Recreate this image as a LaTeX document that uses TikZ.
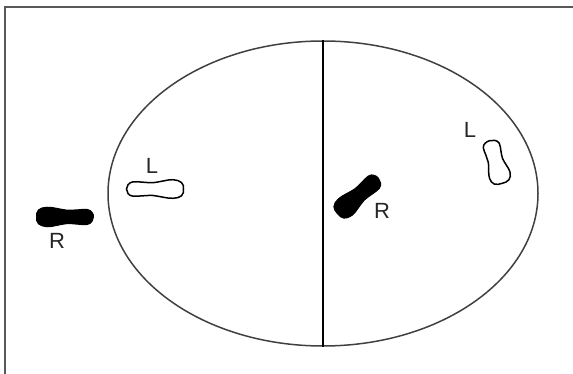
\documentclass[tikz,border=0pt]{standalone}
\usepackage{fontspec}
\setmainfont{Liberation Sans}
\usetikzlibrary{shapes.geometric}
\newcommand{\lblsize}{\fontsize{22}{26}\selectfont}
\tikzset{
  foot/.pic={\path[pic actions] plot[smooth cycle,tension=0.7] coordinates {
    (28.5,0) (26.5,6.5) (18,9.3) (8,8) (-2,6.3) (-12,6.8) (-22,7.2) (-27,4.2) (-28.5,0)
    (-27,-4.5) (-22,-7.2) (-12,-6.8) (-2,-6.5) (8,-8.2) (18,-9.3) (26.5,-6.8)};},
  openfoot/.style={draw=black, line width=1.5pt, fill=white},
  solidfoot/.style={draw=black, fill=black, line width=1pt},
  lbl/.style={font=\lblsize, text=black!85, inner sep=0pt},
  frameline/.style={draw=black!65, line width=1.5pt}
}
\begin{document}
\begin{tikzpicture}[x=1pt,y=1pt]
\useasboundingbox (0,0) rectangle (573,374);
\coordinate (tl) at (5,367);
\coordinate (tr) at (573,367);
\coordinate (bl) at (5,0);
\draw[frameline] (tr) -- (tl) -- (bl);
\node[ellipse, draw=black!75, line width=1.5pt, inner sep=0pt,
      minimum width=430, minimum height=305] (field) at (323,180.5) {};
\draw[black, line width=1.5pt] (field.north) -- (field.south);
% footprints
\pic[solidfoot, rotate=180, yscale=1.05] at (65,157) {foot};
\pic[openfoot, rotate=0, yscale=1.0] at (155,185) {foot};
\pic[solidfoot, rotate=221, xscale=0.95, yscale=1.15] at (358,178) {foot};
\pic[openfoot, rotate=-74, xscale=0.78, yscale=1.15] at (496,212) {foot};
% labels
\node[lbl] (r1) at (57,133) {R};
\node[lbl] (l1) at (152,208) {L};
\node[lbl] (r2) at (382,163) {R};
\node[lbl] (l2) at (470,244) {L};
\end{tikzpicture}
\end{document}
